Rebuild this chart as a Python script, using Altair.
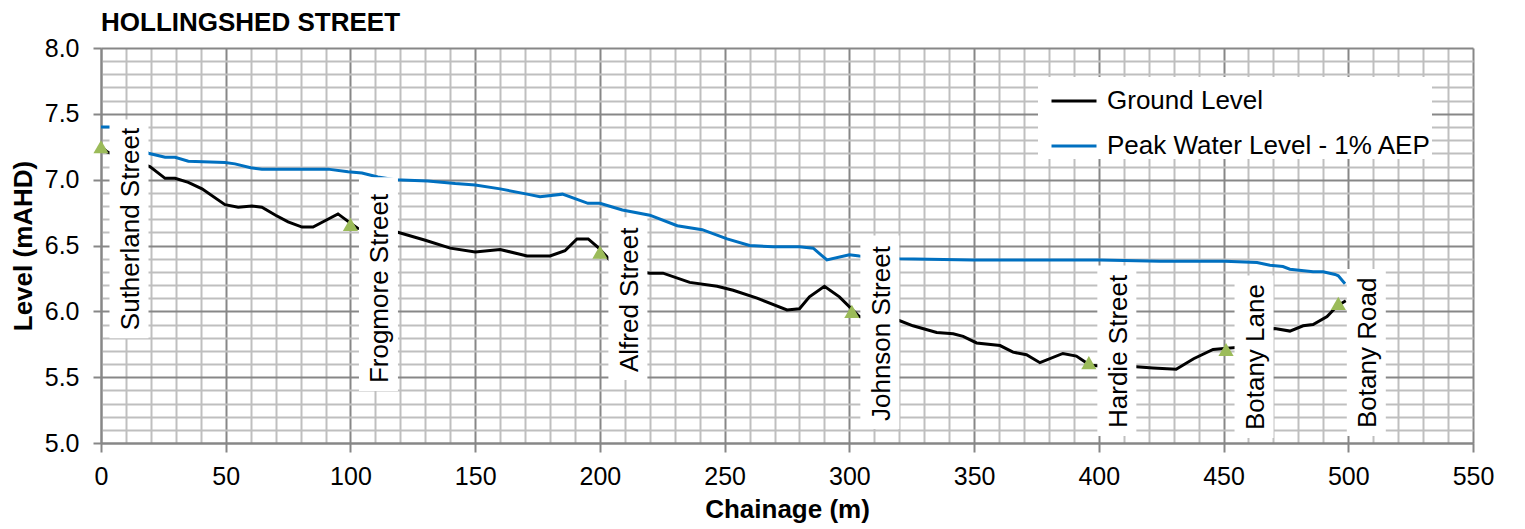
import altair as alt
import pandas as pd

# ---------------- data ----------------
gl_chainage = [0, 2.5, 19.6, 25.7, 29.7, 35, 40.5, 49.7, 55, 60.5, 64.5, 70, 75, 80.6, 85,
               90, 95, 100, 103, 110, 119, 130, 140, 150, 160, 170.8, 180, 186, 190.8, 195.3,
               199, 204, 210, 220, 225.3, 236, 247, 253.4, 263, 275, 280, 284, 290, 296, 304,
               312, 320, 325.5, 335, 341.6, 345.6, 351, 360.4, 365.6, 371, 376.4, 385.6, 391,
               396.5, 405, 415, 421.7, 431, 438, 445.8, 451.4, 458, 465, 470.6, 476.6, 481.9,
               485.9, 491.5, 495.5, 499]
gl_level = [7.25, 7.21, 7.10, 7.01, 7.01, 6.98, 6.93, 6.81, 6.79, 6.80, 6.79, 6.73, 6.68, 6.64, 6.64,
            6.69, 6.74, 6.67, 6.63, 6.62, 6.60, 6.54, 6.48, 6.45, 6.47, 6.42, 6.42, 6.46, 6.55, 6.55,
            6.49, 6.39, 6.32, 6.29, 6.29, 6.22, 6.19, 6.16, 6.10, 6.01, 6.02, 6.11, 6.19, 6.11, 5.96,
            5.94, 5.93, 5.89, 5.84, 5.83, 5.81, 5.76, 5.74, 5.69, 5.67, 5.61, 5.68, 5.66,
            5.59, 5.58, 5.58, 5.57, 5.56, 5.64, 5.71, 5.72, 5.73, 5.85, 5.87, 5.85, 5.89,
            5.90, 5.96, 6.04, 6.08]

wl_chainage = [0, 4, 19, 25.7, 29.7, 35, 49.7, 53.7, 60, 64.5, 80.6, 91, 99, 104.6, 111, 117.9,
               131, 142, 150, 160, 170.8, 176, 185, 195.2, 200, 209, 220, 231, 241, 251, 260,
               269.5, 280, 285.5, 291, 300, 304, 320, 349.5, 400.5, 424.5, 450.6, 463.4, 468.6,
               473.8, 476.6, 485.9, 489.9, 494.7, 496, 498.7]
wl_level = [7.40, 7.40, 7.20, 7.17, 7.17, 7.14, 7.13, 7.12, 7.09, 7.08, 7.08, 7.08, 7.06, 7.05, 7.02, 7.00,
            6.99, 6.97, 6.96, 6.93, 6.89, 6.87, 6.89, 6.82, 6.82, 6.77, 6.73, 6.65, 6.62, 6.55, 6.50,
            6.49, 6.49, 6.48, 6.39, 6.43, 6.42, 6.40, 6.39, 6.39, 6.38, 6.38, 6.37, 6.35,
            6.34, 6.32, 6.30, 6.30, 6.28, 6.27, 6.21]

series_names = ["Ground Level", "Peak Water Level - 1% AEP"]
series_colors = ["#000000", "#0070C0"]

streets = ["Sutherland Street", "Frogmore Street", "Alfred Street", "Johnson Street",
           "Hardie Street", "Botany Lane", "Botany Road"]
street_chainage = [0, 100, 200, 301, 396, 451, 496]
street_level = [7.25, 6.66, 6.45, 6.00, 5.61, 5.71, 6.06]
label_bottom = [5.857, 5.455, 5.539, 5.167, 5.114, 5.098, 5.114]
label_top = [7.397, 6.957, 6.654, 6.515, 6.287, 6.211, 6.261]

x_ticks = list(range(0, 551, 10))
y_ticks = [round(5 + 0.1 * i, 1) for i in range(31)]

# ---------------- tables ----------------
lines_df = pd.concat([
    pd.DataFrame({"chainage": gl_chainage, "level": gl_level, "series": series_names[0]}),
    pd.DataFrame({"chainage": wl_chainage, "level": wl_level, "series": series_names[1]}),
])
streets_df = pd.DataFrame({
    "street": streets, "chainage": street_chainage, "level": street_level,
    "lab_bottom": label_bottom, "lab_top": label_top,
})

FONT = "Liberation Sans"
MAJOR = "#878787"
MINOR = "#BFBFBF"

x_major = "datum.value % 50 === 0"
y_major = "abs(datum.value * 2 - round(datum.value * 2)) < 0.001"

x_axis = alt.Axis(
    values=x_ticks, tickCount=500, title="Chainage (m)", grid=True,
    gridColor={"condition": {"test": x_major, "value": MAJOR}, "value": MINOR},
    gridWidth=2, tickColor=MAJOR, tickWidth=2, tickSize=9,
    tickOpacity={"condition": {"test": x_major, "value": 1}, "value": 0},
    labelExpr=x_major + " ? datum.label : ''",
    labelFontSize=25, labelFont=FONT, labelColor="black", labelPadding=12,
    labelOverlap=False, labelFlush=False,
    domainColor=MAJOR, domainWidth=2,
    titleFontSize=26, titleFont=FONT, titleFontWeight="bold", titleColor="black",
    titlePadding=7,
)
y_axis = alt.Axis(
    values=y_ticks, tickCount=500, title="Level (mAHD)", grid=True, format=".1f",
    gridColor={"condition": {"test": y_major, "value": MAJOR}, "value": MINOR},
    gridWidth=2, tickColor=MAJOR, tickWidth=2, tickSize=8,
    tickOpacity={"condition": {"test": y_major, "value": 1}, "value": 0},
    labelExpr=y_major + " ? datum.label : ''",
    labelFontSize=25, labelFont=FONT, labelColor="black", labelPadding=14,
    labelOverlap=False, labelFlush=False,
    domainColor=MAJOR, domainWidth=2,
    titleFontSize=26, titleFont=FONT, titleFontWeight="bold", titleColor="black",
    titlePadding=8,
)

x_scale = alt.Scale(domain=[0, 550], nice=False, zero=False, padding=0)
y_scale = alt.Scale(domain=[5, 8], nice=False, zero=False, padding=0)

lines = alt.Chart(lines_df).mark_line(strokeWidth=3).encode(
    x=alt.X("chainage:Q", scale=x_scale, axis=x_axis, title="Chainage (m)"),
    y=alt.Y("level:Q", scale=y_scale, axis=y_axis, title="Level (mAHD)"),
    color=alt.Color(
        "series:N",
        scale=alt.Scale(domain=series_names, range=series_colors),
        legend=alt.Legend(
            orient="none", legendX=937, legendY=29, title=None,
            symbolType="stroke", symbolSize=2025, symbolStrokeWidth=3,
            labelFontSize=26, labelFont=FONT, labelColor="black", labelOffset=9,
            labelLimit=0, padding=0, rowPadding=8, symbolOffset=12,
            fillColor="white",
        ),
    ),
    order=alt.Order("chainage:Q"),
)

boxes = alt.Chart(streets_df).mark_bar(
    color="white", width=39, xOffset=28, yOffset=8, y2Offset=-8
).encode(
    x=alt.X("chainage:Q", scale=x_scale, title="Chainage (m)"),
    y=alt.Y("lab_bottom:Q", scale=y_scale, title="Level (mAHD)"),
    y2="lab_top:Q",
)

labels = alt.Chart(streets_df).mark_text(
    angle=270, align="left", baseline="alphabetic", dy=38,
    fontSize=26, font=FONT, color="black"
).encode(
    x=alt.X("chainage:Q", scale=x_scale, title="Chainage (m)"),
    y=alt.Y("lab_bottom:Q", scale=y_scale, title="Level (mAHD)"),
    text="street:N",
)

markers = alt.Chart(streets_df).mark_point(
    shape="triangle-up", filled=True, size=230, color="#9BBB59", opacity=1
).encode(
    x=alt.X("chainage:Q", scale=x_scale, title="Chainage (m)"),
    y=alt.Y("level:Q", scale=y_scale, title="Level (mAHD)"),
)

chart = alt.layer(lines, boxes, labels, markers).properties(
    width=1372, height=395,
    title=alt.TitleParams(
        "HOLLINGSHED STREET", anchor="start", frame="group", fontSize=26,
        fontWeight="bold", font=FONT, color="black", offset=0,
    ),
    autosize=alt.AutoSizeParams(type="none"),
    padding={"left": 93, "top": 40, "right": 25, "bottom": 80},
).configure(font=FONT).configure_view(stroke=None)

chart.save("out.html", embed_options={"renderer": "svg", "actions": False})
